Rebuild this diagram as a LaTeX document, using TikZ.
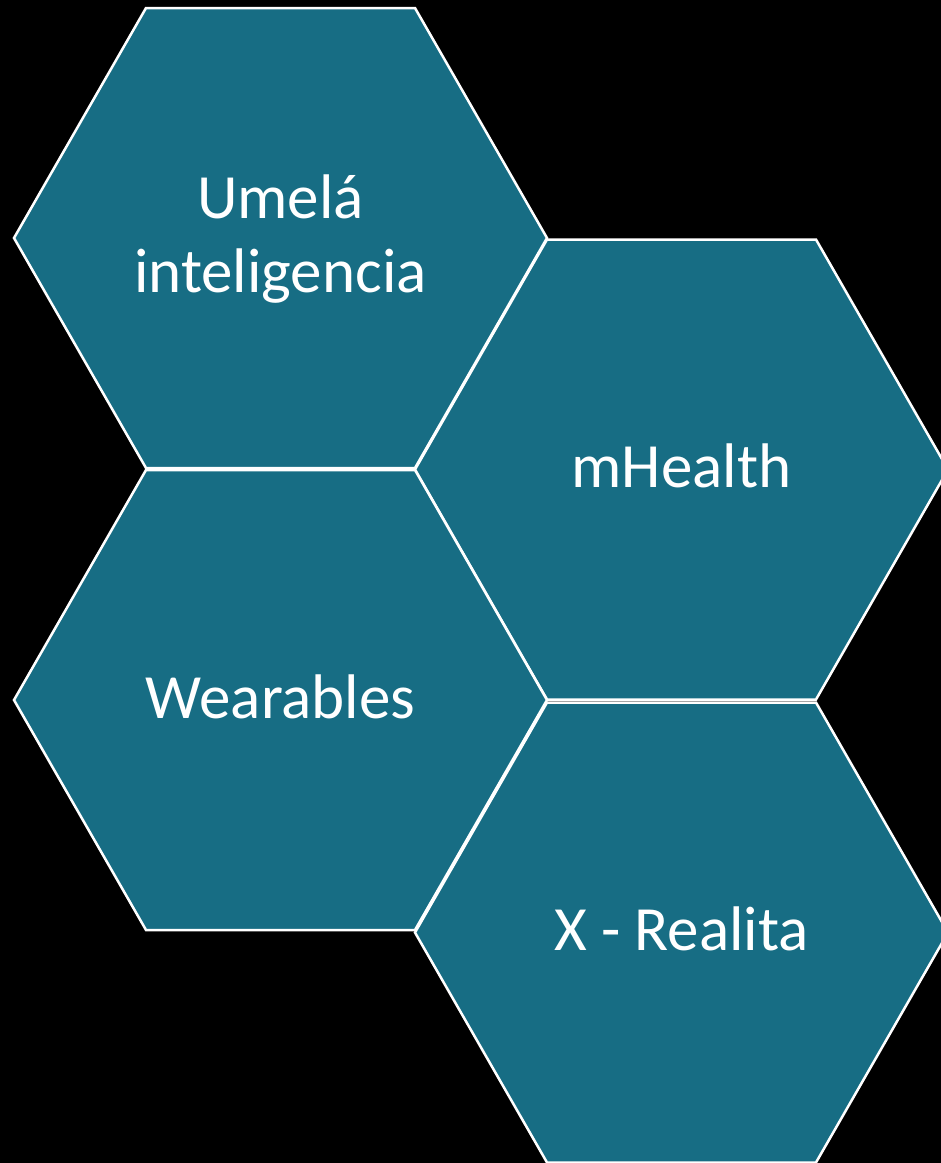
\documentclass[tikz,border=0pt]{standalone}
\usepackage{fontspec}
\setmainfont{Carlito}
\definecolor{hexteal}{RGB}{23,109,132}
\begin{document}
\begin{tikzpicture}[x=1pt,y=-1pt,
  hexfill/.style={fill=hexteal,draw=white,line width=2.5pt,line join=miter},
  label/.style={text=white,font=\fontsize{63}{74}\selectfont,align=center,inner sep=0pt,anchor=base}]
\useasboundingbox (0,0) rectangle (941,1163);
\fill[black] (0,0) rectangle (941,1163);
\clip (0,0) rectangle (941,1163);
\coordinate (c1) at (280.5,238);
\coordinate (c2) at (681.5,469.5);
\coordinate (c3) at (280.5,700);
\coordinate (c4) at (681.5,932.5);
\foreach \c in {c1,c2,c3,c4}{
  \draw[hexfill,shift={(\c)}] (-266.5,0) -- (-134.5,-230) -- (134.5,-230) -- (266.5,0) -- (134.5,230) -- (-134.5,230) -- cycle;
}
\node[label] (t1) at ([yshift=-54pt]c1) {Umelá\\inteligencia};
\node[label] (t2) at ([yshift=-18pt]c2) {mHealth};
\node[label] (t3) at ([yshift=-18pt]c3) {Wearables};
\node[label] (t4) at ([yshift=-18pt]c4) {X - Realita};
\end{tikzpicture}
\end{document}
